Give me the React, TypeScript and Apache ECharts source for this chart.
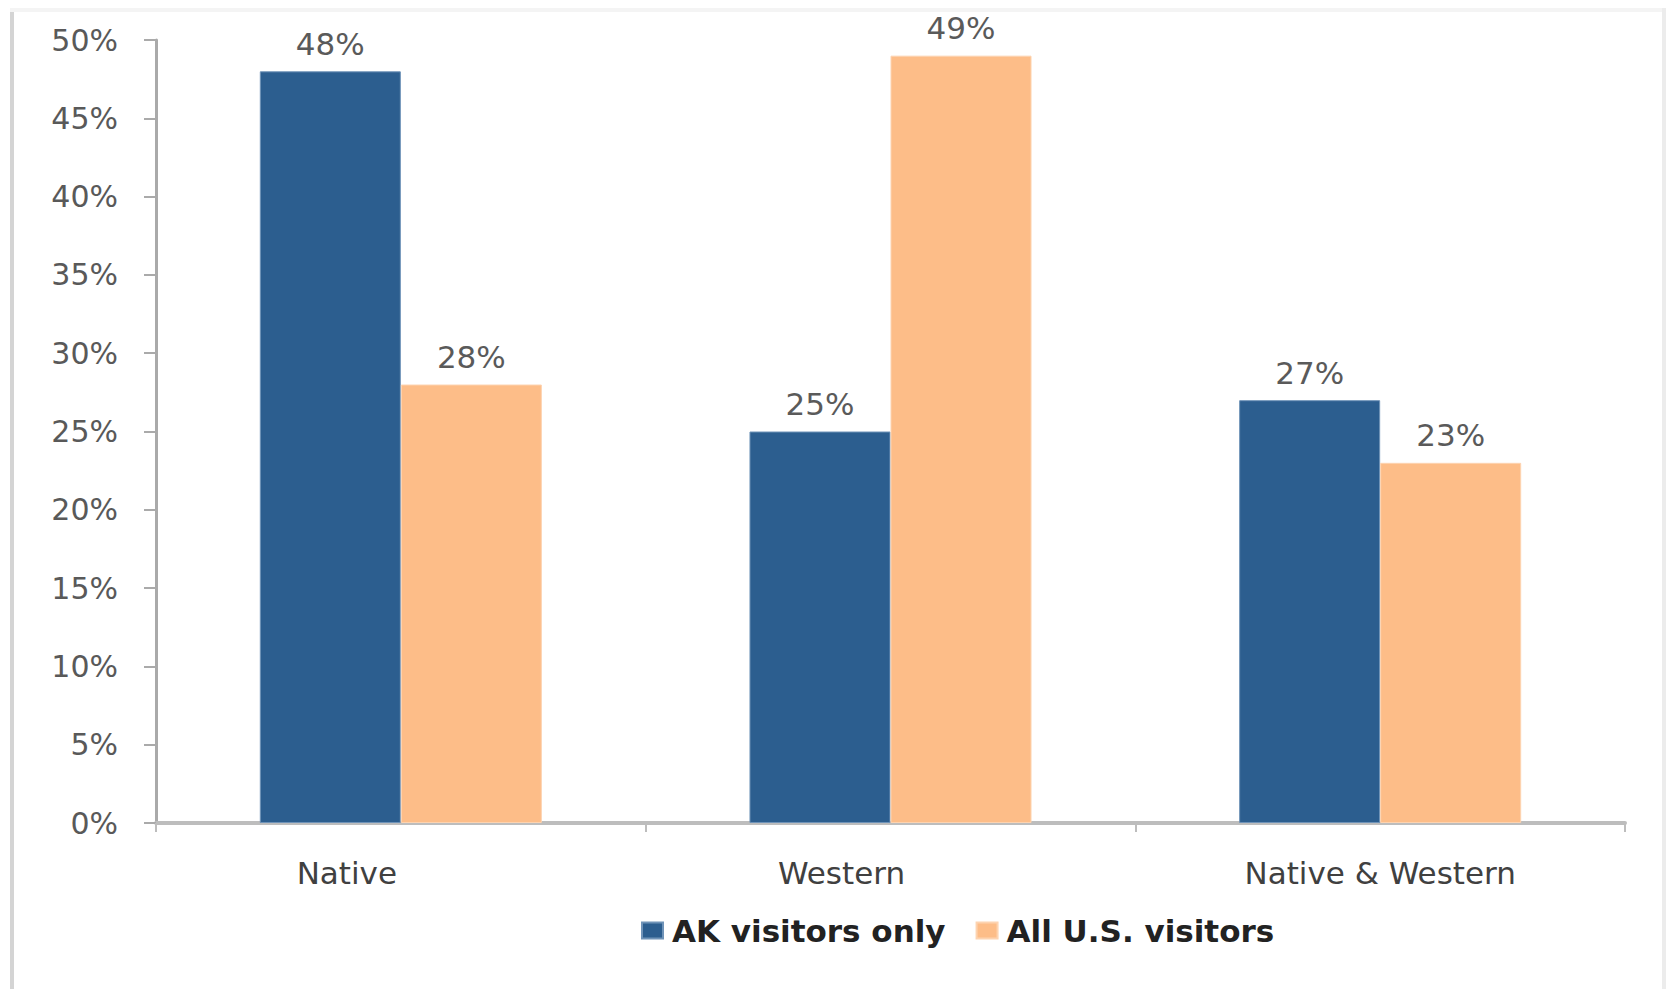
import React, { useEffect, useRef } from "react";
import * as echarts from "echarts";

const categories = ["Native", "Western", "Native & Western"];
const akVisitors = [48, 25, 27];
const allUsVisitors = [28, 49, 23];
const seriesNames = ["AK visitors only", "All U.S. visitors"];
const yTicks = { min: 0, max: 50, interval: 5 };
// label shift keys (the original places the first two labels left of the category centre)
const labelKeys = ["shiftA", "shiftB", "plain"];

export default function App() {
  const ref = useRef<HTMLDivElement>(null);

  useEffect(() => {
    document.body.style.margin = "0";
    const chart = echarts.init(ref.current!, null, { renderer: "svg" });
    const labelStyle = {
      show: true,
      position: "top",
      distance: 12,
      fontFamily: "DejaVu Sans",
      fontSize: 31,
      color: "#5a5a5a",
      formatter: (p: any) => `${p.value}%`,
    };
    const catText = { fontFamily: "DejaVu Sans", fontSize: 31, color: "#404040" };
    chart.setOption({
      animation: false,
      backgroundColor: "#ffffff",
      textStyle: { fontFamily: "DejaVu Sans" },
      grid: { left: 156, right: 41, top: 40, bottom: 166, containLabel: false },
      legend: {
        left: 636,
        top: 910,
        itemWidth: 21,
        itemHeight: 16,
        itemGap: 30,
        icon: "rect",
        textStyle: {
          fontFamily: "DejaVu Sans",
          fontWeight: "bold",
          fontSize: 31,
          color: "#222222",
          padding: [0, 0, 0, 4],
        },
        data: seriesNames,
      },
      xAxis: {
        type: "category",
        data: categories,
        axisLine: { lineStyle: { color: "#bdbdbd", width: 4 } },
        axisTick: { show: true, interval: 0, length: 9, lineStyle: { color: "#bdbdbd", width: 2 } },
        axisLabel: {
          interval: 0,
          hideOverlap: false,
          margin: 34,
          ...catText,
          formatter: (v: string, i: number) => `{${labelKeys[i]}|${v}}`,
          rich: {
            shiftA: { ...catText, padding: [0, 108, 0, 0] },
            shiftB: { ...catText, padding: [0, 98, 0, 0] },
            plain: { ...catText },
          },
        },
      },
      yAxis: {
        type: "value",
        min: yTicks.min,
        max: yTicks.max,
        interval: yTicks.interval,
        axisLine: { show: true, lineStyle: { color: "#aaaaaa", width: 3 } },
        axisTick: { show: true, length: 12, lineStyle: { color: "#aaaaaa", width: 2 } },
        splitLine: { show: false },
        axisLabel: {
          margin: 38,
          fontFamily: "DejaVu Sans",
          fontSize: 30,
          color: "#595959",
          formatter: (v: number) => `${v}%`,
        },
      },
      series: [
        {
          name: seriesNames[0],
          type: "bar",
          data: akVisitors,
          barWidth: "28.8%",
          barGap: "0%",
          itemStyle: { color: "#2c5e8f", borderColor: "#6f93b8", borderWidth: 1 },
          label: labelStyle,
        },
        {
          name: seriesNames[1],
          type: "bar",
          data: allUsVisitors,
          barWidth: "28.8%",
          itemStyle: { color: "#fdbd88", borderColor: "#fdd3b0", borderWidth: 1 },
          label: labelStyle,
        },
      ],
      graphic: [
        { type: "rect", shape: { x: 10, y: 8, width: 4, height: 990 }, style: { fill: "#d4d4d4" }, silent: true },
        { type: "rect", shape: { x: 10, y: 8, width: 1656, height: 4 }, style: { fill: "#f4f4f4" }, silent: true },
        { type: "rect", shape: { x: 1662, y: 8, width: 4, height: 990 }, style: { fill: "#ececec" }, silent: true },
      ],
    });
    return () => chart.dispose();
  }, []);

  return (
    <div
      ref={ref}
      style={{ position: "absolute", left: 0, top: 0, width: 1666, height: 989 }}
    />
  );
}
